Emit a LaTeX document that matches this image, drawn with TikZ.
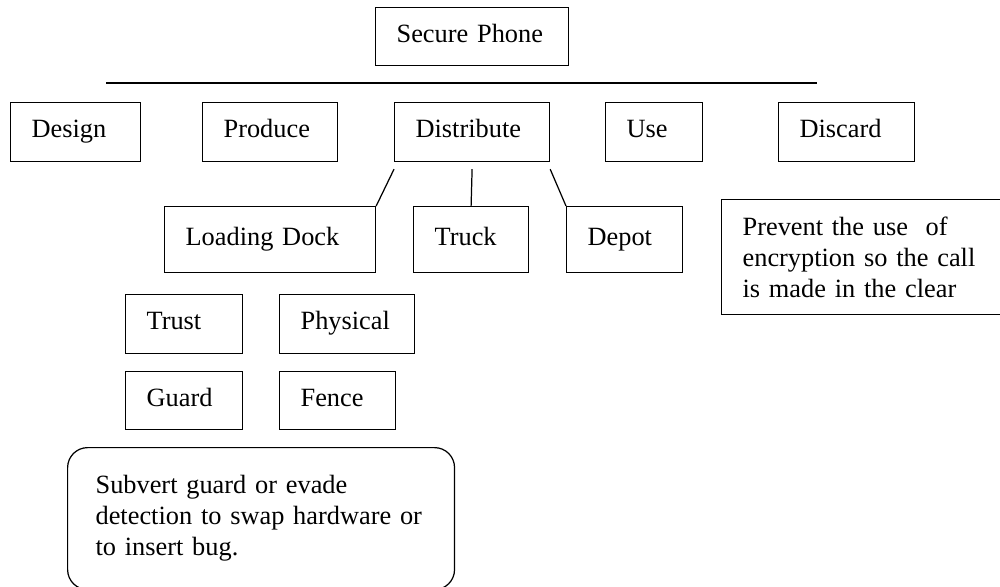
\documentclass[tikz,border=0pt]{standalone}
\usepackage{fontspec}
\setmainfont{Liberation Serif}
\usetikzlibrary{calc}

\tikzset{
  box/.style={draw, anchor=north west, align=left, inner xsep=0.42cm, inner ysep=0pt,
    text height=0.36cm, text depth=0.14cm, minimum height=1.18cm},
  note/.style={draw, anchor=north west, align=left, inner xsep=0.42cm, inner ysep=0pt}
}

\begin{document}
\begin{tikzpicture}[x=0.02cm, y=-0.02cm, line width=0.7pt, font=\fontsize{15}{17.6}\selectfont]
  \useasboundingbox (0,0) rectangle (1000,587);
  % top of the tree
  \node[box, text width=3.02cm, minimum height=1.16cm] (phone) at (375,7) {Secure Phone};
  \coordinate (barL) at (106,83);
  \coordinate (barR) at (817,83);
  \draw (barL) -- (barR);
  % life cycle steps
  \node[box, text width=1.76cm] (design) at (10,102) {Design};
  \node[box, text width=1.86cm] (produce) at (202,102) {Produce};
  \node[box, text width=2.26cm] (distribute) at (394,102) {Distribute};
  \node[box, text width=1.10cm] (use) at (605,102) {Use};
  \node[box, text width=1.88cm] (discard) at (778,102) {Discard};
  % distribution points
  \node[box, text width=3.38cm, minimum height=1.32cm] (dock) at (164,206) {Loading Dock};
  \node[box, text width=1.46cm, minimum height=1.32cm] (truck) at (413,206) {Truck};
  \node[box, text width=1.48cm, minimum height=1.32cm] (depot) at (566,206) {Depot};
  \draw ([yshift=-0.14cm]distribute.south west) -- (dock.north east);
  \draw ([yshift=-0.14cm]distribute.south) -- (truck.north);
  \draw ([yshift=-0.14cm]distribute.south east) -- (depot.north west);
  % protections
  \node[box, text width=1.50cm] (trust) at (125,294) {Trust};
  \node[box, text width=1.86cm] (physical) at (279,294) {Physical};
  \node[box, text width=1.50cm, minimum height=1.16cm] (guard) at (125,371) {Guard};
  \node[box, text width=1.48cm, minimum height=1.16cm] (fence) at (279,371) {Fence};
  % attack notes
  \node[note, text width=5.16cm, minimum height=2.3cm] (clear) at (721,199)
    {Prevent the use\ \ of\\ encryption so the call\\ is made in the clear};
  \node[note, rounded corners=0.4cm, inner xsep=0.56cm, text width=6.62cm, minimum height=2.84cm] (subvert) at (67,447)
    {Subvert guard or evade\\ detection to swap hardware or\\ to insert bug.};
\end{tikzpicture}
\end{document}
